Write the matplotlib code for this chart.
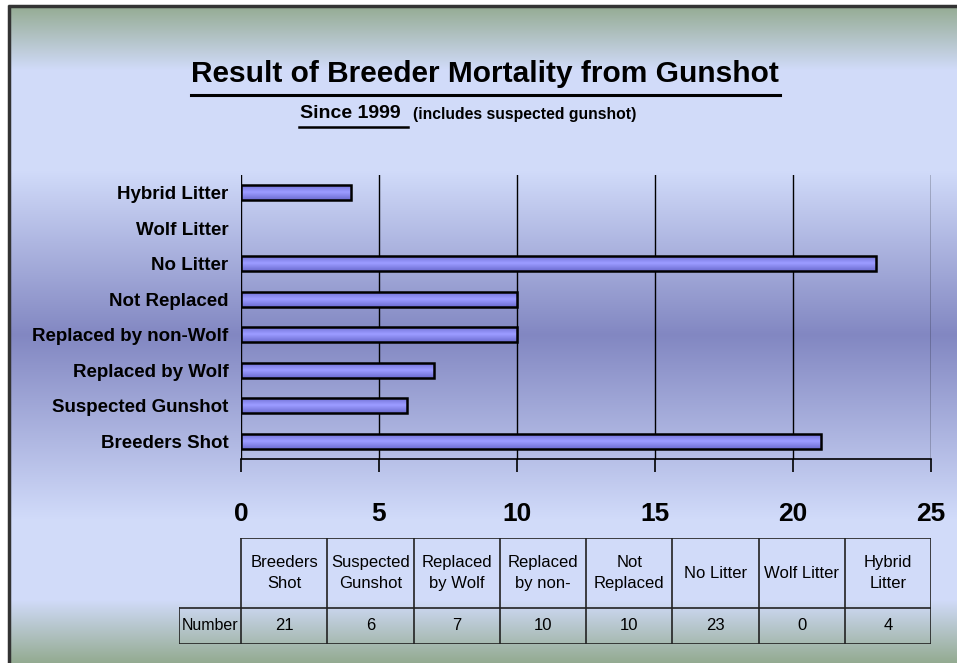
import numpy as np
import matplotlib
matplotlib.use('Agg')
import matplotlib.pyplot as plt
from matplotlib.patches import Rectangle
from matplotlib.colors import LinearSegmentedColormap

plt.rcParams['font.family'] = ['Liberation Sans', 'DejaVu Sans']

# data
categories = ['Breeders Shot', 'Suspected Gunshot', 'Replaced by Wolf',
              'Replaced by non-Wolf', 'Not Replaced', 'No Litter',
              'Wolf Litter', 'Hybrid Litter']
values = [21, 6, 7, 10, 10, 23, 0, 4]
table_headers = ['Breeders\nShot', 'Suspected\nGunshot', 'Replaced\nby Wolf',
                 'Replaced\nby non-', 'Not\nReplaced', 'No Litter',
                 'Wolf Litter', 'Hybrid\nLitter']
row_label = 'Number'
x_ticks = [0, 5, 10, 15, 20, 25]

W, H = 957, 663
fig = plt.figure(figsize=(W / 100, H / 100), dpi=100)
fig.patch.set_facecolor('white')

# background panel with vertical gradient
bg = fig.add_axes([8 / W, 0, 1 - 8 / W, 1 - 5 / H], zorder=-5)
stops_y = [5, 70, 170, 335, 520, 600, 663]
green = (0.58, 0.67, 0.57)
lav = (0.82, 0.86, 0.98)
dark = (0.51, 0.53, 0.76)
stops_c = [green, lav, lav, dark, lav, lav, green]
ys = np.arange(5, 664)
grad = np.zeros((len(ys), 1, 3))
for k in range(3):
    grad[:, 0, k] = np.interp(ys, stops_y, [c[k] for c in stops_c])
bg.imshow(grad, aspect='auto', extent=[0, 1, 0, 1])
bg.set_axis_off()
# frame lines on left and top
fig.add_artist(plt.Line2D([8.5 / W, 8.5 / W], [0, 1 - 5 / H], color='#333333',
                          lw=2.5, solid_capstyle='butt'))
fig.add_artist(plt.Line2D([8 / W, 1], [1 - 5.5 / H, 1 - 5.5 / H], color='#333333',
                          lw=2.5, solid_capstyle='butt'))

# title
fig.text(485 / W, 1 - 74 / H, 'Result of Breeder Mortality from Gunshot',
         ha='center', va='center', fontsize=21.5, fontweight='bold')
fig.add_artist(plt.Line2D([191 / W, 780 / W], [1 - 95 / H, 1 - 95 / H], color='black', lw=2.2))
fig.text(300 / W, 1 - 114 / H, 'Since 1999', ha='left', va='center',
         fontsize=14, fontweight='bold')
fig.add_artist(plt.Line2D([299 / W, 408 / W], [1 - 127 / H, 1 - 127 / H], color='black', lw=1.8))
fig.text(413 / W, 1 - 114 / H, '(includes suspected gunshot)', ha='left', va='center',
         fontsize=11.3, fontweight='bold')

# bar chart
ax = fig.add_axes([241 / W, (H - 459) / H, 690 / W, 284 / H])
ax.patch.set_alpha(0)
y = np.arange(len(categories))
bars = ax.barh(y, values, height=0.43, color='#9494f4', lw=0, zorder=3)
# gradient shading on bars
bar_grad = np.interp(np.linspace(0, 1, 20), [0, 0.5, 1], [0.0, 1.0, 0.0]).reshape(-1, 1)
bar_cmap = LinearSegmentedColormap.from_list('bar', ['#6e6ed2', '#9a9aff'])
for b in bars:
    if b.get_width() <= 0:
        continue
    im = ax.imshow(bar_grad, cmap=bar_cmap, aspect='auto',
                   extent=[b.get_x(), b.get_x() + b.get_width(),
                           b.get_y(), b.get_y() + b.get_height()],
                   zorder=3.5)
    im.set_clip_path(b)
    ax.add_patch(Rectangle((b.get_x(), b.get_y()), b.get_width(), b.get_height(),
                           fill=False, edgecolor='black', lw=1.8, zorder=4))

ax.set_xlim(0, 25)
ax.set_ylim(-0.5, len(categories) - 0.5)
ax.set_xticks(x_ticks)
ax.set_yticks(y)
ax.set_yticklabels(categories, fontsize=13.5, fontweight='bold')
ax.tick_params(axis='y', length=0, pad=9)
ax.tick_params(axis='x', length=9, width=1.2, labelsize=19, pad=22, direction='out')
for lbl in ax.get_xticklabels():
    lbl.set_fontweight('bold')
ax.grid(axis='x', color='black', lw=1.0, zorder=1)
for side in ['top', 'right', 'left']:
    ax.spines[side].set_visible(False)
ax.spines['bottom'].set_linewidth(1.2)
ax.axvline(0, color='black', lw=1.2, zorder=2)

# data table below
tab = fig.add_axes([179 / W, (H - 644) / H, 752 / W, 106 / H])
tab.set_xlim(0, 752)
tab.set_ylim(0, 106)
tab.set_axis_off()
tab.patch.set_alpha(0)
col_w = 690 / len(categories)
lc = '#222222'
tab.plot([62, 752], [106, 106], color=lc, lw=1.2)
tab.plot([0, 752], [36, 36], color=lc, lw=1.2)
tab.plot([0, 752], [0, 0], color=lc, lw=1.2)
tab.plot([0, 0], [0, 36], color=lc, lw=1.2)
for i in range(len(categories) + 1):
    x0 = 62 + i * col_w
    tab.plot([x0, x0], [0, 106], color=lc, lw=1.2)
tab.text(31, 18, row_label, ha='center', va='center', fontsize=11.5)
for i, (hdr, v) in enumerate(zip(table_headers, values)):
    xc = 62 + (i + 0.5) * col_w
    tab.text(xc, 71, hdr, ha='center', va='center', fontsize=12, linespacing=1.5)
    tab.text(xc, 18, str(v), ha='center', va='center', fontsize=12)

fig.savefig('out.png', dpi=100)
